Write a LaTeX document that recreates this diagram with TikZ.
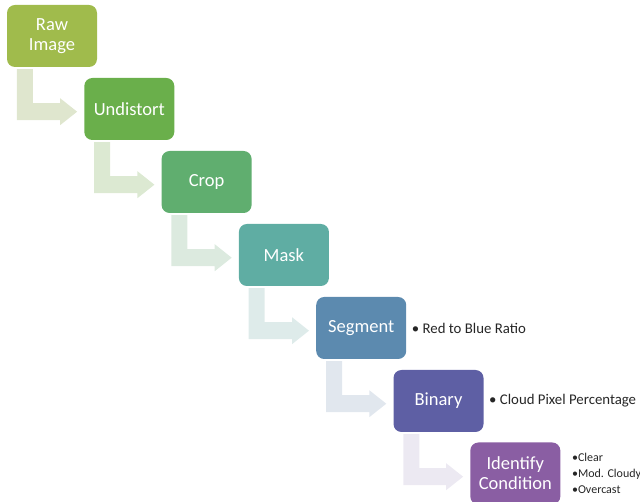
\documentclass[tikz,border=0pt]{standalone}
\usepackage{fontspec}
\setmainfont{Carlito}
\usetikzlibrary{calc,positioning}

% dobozok és nyilak színei
\definecolor{raw}{HTML}{A0BB4C}
\definecolor{und}{HTML}{6AAF4B}
\definecolor{crp}{HTML}{60AE6F}
\definecolor{msk}{HTML}{5FADA3}
\definecolor{sgm}{HTML}{5C8AAF}
\definecolor{bin}{HTML}{5E5FA4}
\definecolor{idc}{HTML}{8A5EA3}
\definecolor{ny1}{HTML}{DFE6CE}
\definecolor{ny2}{HTML}{DCE9D2}
\definecolor{ny3}{HTML}{DCEADF}
\definecolor{ny4}{HTML}{DEEBEA}
\definecolor{ny5}{HTML}{E1E7EE}
\definecolor{ny6}{HTML}{ECE9F2}

% L alakú, kitöltött nyíl két lépés között
\newcommand{\lnyil}[3]{%
  \fill[#3] let \p1=(#1.south west), \p2=(#2.west) in
    (\x1+10pt,\y1-2pt) -- (\x1+26pt,\y1-2pt) -- (\x1+26pt,\y1-36pt)
    -- (\x2-24pt,\y1-36pt) -- (\x2-24pt,\y1-31pt) -- (\x2-7pt,\y1-44.5pt)
    -- (\x2-24pt,\y1-58pt) -- (\x2-24pt,\y1-53pt) -- (\x1+10pt,\y1-53pt) -- cycle;}

\tikzset{
  lepes/.style={rectangle, rounded corners=8pt, minimum width=90pt, minimum height=62pt,
    inner sep=0pt, text=white, align=center, font=\fontsize{18.5}{21}\selectfont},
  megj/.style={anchor=west, align=left, text=black!85, font=\fontsize{14.8}{17}\selectfont},
}

\begin{document}
\begin{tikzpicture}[x=1pt, y=-1pt]
    \useasboundingbox (0,0) rectangle (640,502);

    % A lépések dobozai
    \node[lepes, fill=raw] (raw) at (52,36) {Raw\\[-1pt]Image};
    \node[lepes, fill=und] (und) at (129.3,109) {Undistort};
    \node[lepes, fill=crp] (crp) at (206.6,182) {Crop};
    \node[lepes, fill=msk] (msk) at (283.9,255) {Mask};
    \node[lepes, fill=sgm] (sgm) at (361.2,328) {Segment};
    \node[lepes, fill=bin] (bin) at (438.5,401) {Binary};
    \node[lepes, fill=idc] (idc) at (515.3,473.5) {Identify\\[-1pt]Condition};

    % Nyilak a dobozok között
    \lnyil{raw}{und}{ny1}
    \lnyil{und}{crp}{ny2}
    \lnyil{crp}{msk}{ny3}
    \lnyil{msk}{sgm}{ny4}
    \lnyil{sgm}{bin}{ny5}
    \lnyil{bin}{idc}{ny6}

    % Megjegyzések a dobozok mellett
    \node[megj, right=2pt of sgm] (sgmm) {\textbullet\ Red to Blue Ratio};
    \node[megj, right=2pt of bin] (binm) {\textbullet\ Cloud Pixel Percentage};
    \node[megj, right=8pt of idc, font=\fontsize{12}{16}\selectfont] (idcm)
        {\textbullet Clear\\\textbullet Mod. Cloudy\\\textbullet Overcast};
\end{tikzpicture}
\end{document}
